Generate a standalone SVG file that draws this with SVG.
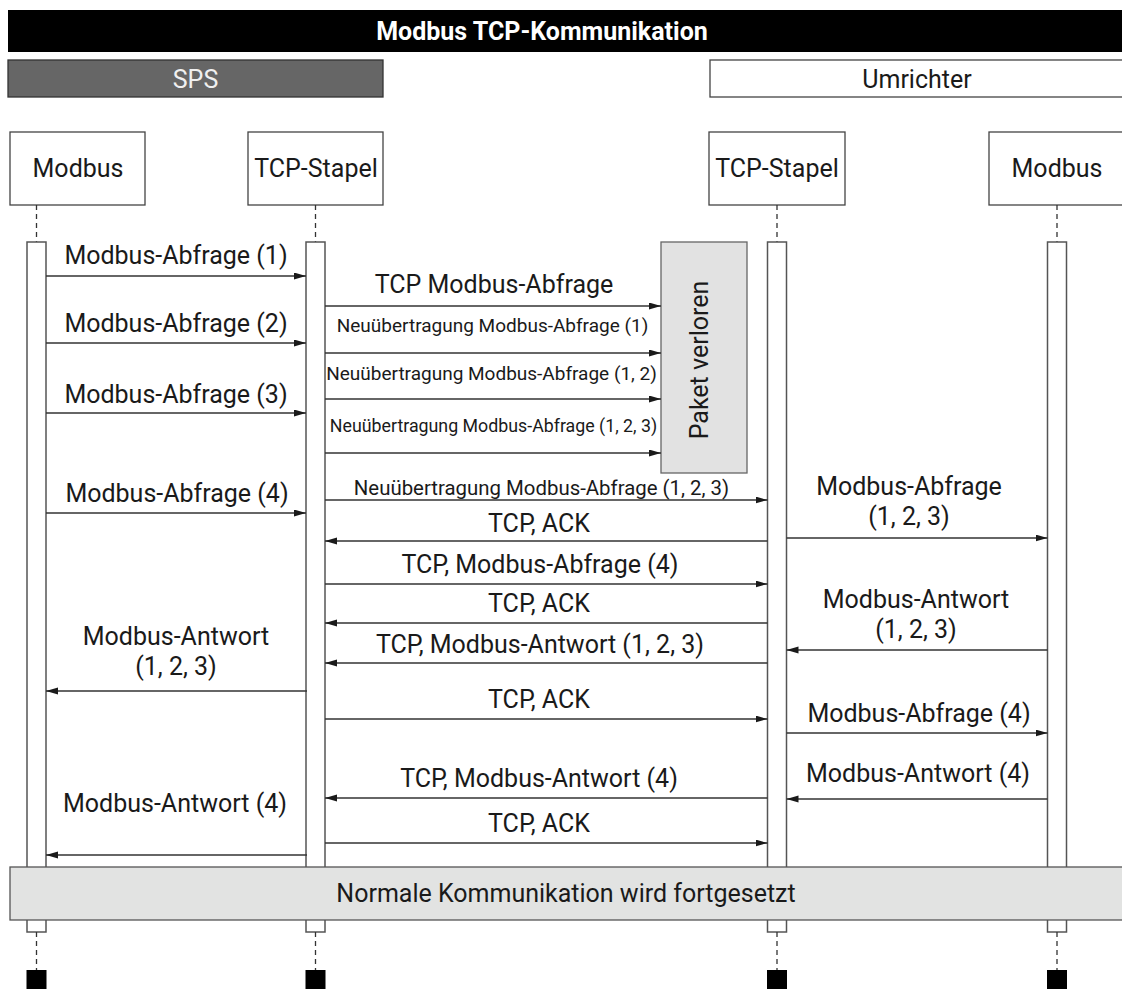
<svg xmlns="http://www.w3.org/2000/svg" width="1122" height="989" viewBox="0 0 1122 989">
  <defs>
    <marker id="arrow" markerUnits="userSpaceOnUse" markerWidth="13" markerHeight="8" refX="12" refY="3.5" orient="auto">
      <path d="M0,0 L12,3.5 L0,7 Z" fill="#1a1a1a"/>
    </marker>
    <style>
      text { font-family: Roboto, "Liberation Sans", Arial, sans-serif; fill: #1a1a1a; text-anchor: middle; }
      .lbl { font-size: 25px; }
      .sm { font-size: 19px; }
      .title { font-size: 25px; font-weight: bold; fill: #ffffff; }
      .head { fill: #ffffff; stroke: #444; stroke-width: 1.3; }
      .act { fill: #ffffff; stroke: #555; stroke-width: 1.5; }
      .dash { stroke: #333; stroke-width: 1.3; stroke-dasharray: 5 4; fill: none; }
      .msg { stroke: #333; stroke-width: 1.3; fill: none; marker-end: url(#arrow); }
      .term { fill: #000; }
      .band { fill: #e2e3e2; stroke: #555; stroke-width: 1.3; }
    </style>
  </defs>

  <!-- title bar -->
  <g id="title">
    <rect x="8" y="10" width="1120" height="42" fill="#000"/>
    <text class="title" x="542" y="40">Modbus TCP-Kommunikation</text>
  </g>

  <!-- device groups -->
  <g id="sps">
    <rect x="8" y="60" width="375" height="37" fill="#666666" stroke="#333" stroke-width="1.3"/>
    <text class="lbl" x="195.5" y="88" style="fill:#f0f0f0">SPS</text>
  </g>
  <g id="umrichter">
    <rect x="710" y="60" width="416" height="37" fill="#ffffff" stroke="#444" stroke-width="1.3"/>
    <text class="lbl" x="917" y="88">Umrichter</text>
  </g>

  <!-- lifelines: head box, dashed stems, activation bar, terminator -->
  <g id="sps-modbus">
    <rect class="head" x="10" y="132" width="135" height="73"/>
    <text class="lbl" x="78" y="177">Modbus</text>
    <line class="dash" x1="36.5" y1="205" x2="36.5" y2="242"/>
    <rect class="act" x="27" y="242" width="19" height="690"/>
    <line class="dash" x1="36.5" y1="932" x2="36.5" y2="970"/>
    <rect class="term" x="26.5" y="970" width="20" height="20"/>
  </g>
  <g id="sps-tcp">
    <rect class="head" x="248" y="132" width="135" height="73"/>
    <text class="lbl" x="316" y="177">TCP-Stapel</text>
    <line class="dash" x1="315.5" y1="205" x2="315.5" y2="242"/>
    <rect class="act" x="306" y="242" width="19" height="690"/>
    <line class="dash" x1="315.5" y1="932" x2="315.5" y2="970"/>
    <rect class="term" x="305.5" y="970" width="20" height="20"/>
  </g>
  <g id="umr-tcp">
    <rect class="head" x="709" y="132" width="136" height="73"/>
    <text class="lbl" x="777" y="177">TCP-Stapel</text>
    <line class="dash" x1="777" y1="205" x2="777" y2="242"/>
    <rect class="act" x="767.5" y="242" width="19" height="690"/>
    <line class="dash" x1="777" y1="932" x2="777" y2="970"/>
    <rect class="term" x="767" y="970" width="20" height="20"/>
  </g>
  <g id="umr-modbus">
    <rect class="head" x="989" y="132" width="137" height="73"/>
    <text class="lbl" x="1057" y="177">Modbus</text>
    <line class="dash" x1="1057" y1="205" x2="1057" y2="242"/>
    <rect class="act" x="1047.5" y="242" width="19" height="690"/>
    <line class="dash" x1="1057" y1="932" x2="1057" y2="970"/>
    <rect class="term" x="1047" y="970" width="20" height="20"/>
  </g>

  <!-- lost packet region -->
  <g id="paket-verloren">
    <rect x="661" y="242" width="86" height="231" fill="#e2e2e2" stroke="#666" stroke-width="1.3"/>
    <text class="lbl" transform="translate(708 360) rotate(-90)">Paket verloren</text>
  </g>

  <!-- messages -->
  <g id="connectors">
    <!-- SPS Modbus -> SPS TCP -->
    <line class="msg" x1="46" y1="276" x2="306" y2="276"/>
    <line class="msg" x1="46" y1="343" x2="306" y2="343"/>
    <line class="msg" x1="46" y1="413" x2="306" y2="413"/>
    <line class="msg" x1="46" y1="513" x2="306" y2="513"/>
    <!-- SPS TCP -> lost -->
    <line class="msg" x1="325" y1="306" x2="661" y2="306"/>
    <line class="msg" x1="325" y1="353" x2="661" y2="353"/>
    <line class="msg" x1="325" y1="399" x2="661" y2="399"/>
    <line class="msg" x1="325" y1="453" x2="661" y2="453"/>
    <!-- SPS TCP <-> Umrichter TCP -->
    <line class="msg" x1="325" y1="500" x2="767.5" y2="500"/>
    <line class="msg" x1="767.5" y1="541" x2="325" y2="541"/>
    <line class="msg" x1="325" y1="584" x2="767.5" y2="584"/>
    <line class="msg" x1="767.5" y1="623" x2="325" y2="623"/>
    <line class="msg" x1="767.5" y1="663" x2="325" y2="663"/>
    <line class="msg" x1="325" y1="719" x2="767.5" y2="719"/>
    <line class="msg" x1="767.5" y1="798" x2="325" y2="798"/>
    <line class="msg" x1="325" y1="843" x2="767.5" y2="843"/>
    <!-- Umrichter TCP <-> Umrichter Modbus -->
    <line class="msg" x1="786.5" y1="538" x2="1047.5" y2="538"/>
    <line class="msg" x1="1047.5" y1="650" x2="786.5" y2="650"/>
    <line class="msg" x1="786.5" y1="733" x2="1047.5" y2="733"/>
    <line class="msg" x1="1047.5" y1="799" x2="786.5" y2="799"/>
    <!-- SPS TCP -> SPS Modbus -->
    <line class="msg" x1="307" y1="691" x2="46" y2="691"/>
    <line class="msg" x1="307" y1="855" x2="46" y2="855"/>
  </g>

  <!-- message labels -->
  <g id="labels">
    <text class="lbl" x="176" y="264">Modbus-Abfrage (1)</text>
    <text class="lbl" x="176" y="332">Modbus-Abfrage (2)</text>
    <text class="lbl" x="176" y="403">Modbus-Abfrage (3)</text>
    <text class="lbl" x="177" y="502">Modbus-Abfrage (4)</text>
    <text class="lbl" x="176" y="645">Modbus-Antwort</text>
    <text class="lbl" x="176" y="675">(1, 2, 3)</text>
    <text class="lbl" x="175" y="812">Modbus-Antwort (4)</text>

    <text class="lbl" x="494" y="293">TCP Modbus-Abfrage</text>
    <text class="sm" x="492.5" y="332">Neuübertragung Modbus-Abfrage (1)</text>
    <text class="sm" x="491.5" y="380">Neuübertragung Modbus-Abfrage (1, 2)</text>
    <text class="sm" x="493.5" y="432" style="font-size:17.8px">Neuübertragung Modbus-Abfrage (1, 2, 3)</text>
    <text class="sm" x="541.5" y="495" style="font-size:20.4px">Neuübertragung Modbus-Abfrage (1, 2, 3)</text>
    <text class="lbl" x="539" y="532">TCP, ACK</text>
    <text class="lbl" x="540" y="573">TCP, Modbus-Abfrage (4)</text>
    <text class="lbl" x="539" y="612">TCP, ACK</text>
    <text class="lbl" x="540" y="653">TCP, Modbus-Antwort (1, 2, 3)</text>
    <text class="lbl" x="539" y="708">TCP, ACK</text>
    <text class="lbl" x="539" y="787">TCP, Modbus-Antwort (4)</text>
    <text class="lbl" x="539" y="832">TCP, ACK</text>

    <text class="lbl" x="909" y="495">Modbus-Abfrage</text>
    <text class="lbl" x="909" y="525">(1, 2, 3)</text>
    <text class="lbl" x="916" y="608">Modbus-Antwort</text>
    <text class="lbl" x="916" y="638">(1, 2, 3)</text>
    <text class="lbl" x="919" y="722">Modbus-Abfrage (4)</text>
    <text class="lbl" x="918" y="782">Modbus-Antwort (4)</text>
  </g>

  <!-- continuation band -->
  <g id="fortsetzung">
    <rect class="band" x="10" y="867" width="1116" height="53"/>
    <text class="lbl" x="566" y="902">Normale Kommunikation wird fortgesetzt</text>
  </g>
</svg>
